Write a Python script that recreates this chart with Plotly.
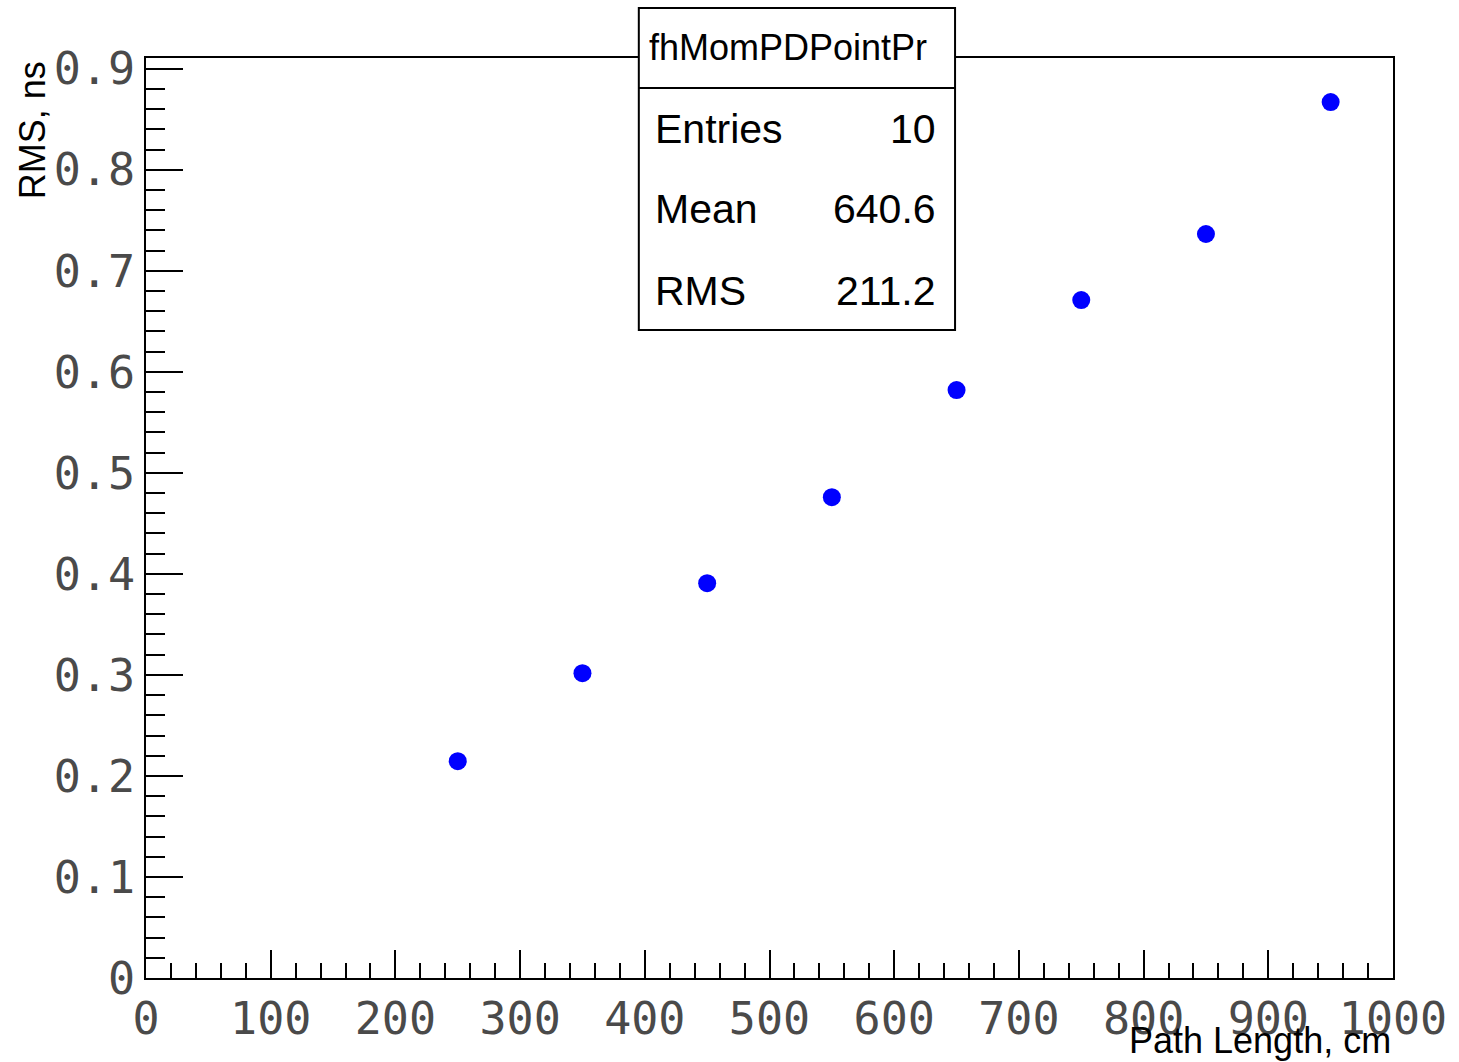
import plotly.graph_objects as go

# ---- data ----
path_length = [250, 350, 450, 550, 650, 750, 850, 950]
rms_ns = [0.2146, 0.3017, 0.3908, 0.4759, 0.5819, 0.6710, 0.7364, 0.8670]

x_tick_vals = [0, 100, 200, 300, 400, 500, 600, 700, 800, 900, 1000]
x_tick_text = ["0", "100", "200", "300", "400", "500", "600", "700", "800", "900", "1000"]
y_tick_vals = [0, 0.1, 0.2, 0.3, 0.4, 0.5, 0.6, 0.7, 0.8, 0.9]
y_tick_text = ["0", "0.1", "0.2", "0.3", "0.4", "0.5", "0.6", "0.7", "0.8", "0.9"]

stats_title = "fhMomPDPointPr"
stats_labels = ["Entries", "Mean", "RMS"]
stats_values = ["10", "640.6", "211.2"]

x_title = "Path Length, cm"
y_title = "RMS, ns"

# ---- figure ----
W, H = 1459, 1062
ML, MR, MT, MB = 146, 63, 58, 84
PW, PH = W - ML - MR, H - MT - MB


def px_x(px):
    return (px - ML) / PW


def px_y(py):
    return (H - MB - py) / PH


fig = go.Figure()
fig.add_trace(go.Scatter(
    x=path_length, y=rms_ns, mode="markers",
    marker=dict(color="#0000ff", size=18, line=dict(width=0)),
    showlegend=False, hoverinfo="x+y",
))

tick_font = dict(family="DejaVu Sans Mono", size=45, color="#4a4a4a")

fig.update_layout(
    width=W, height=H,
    margin=dict(l=ML, r=MR, t=MT, b=MB, pad=0),
    paper_bgcolor="white", plot_bgcolor="white",
    xaxis=dict(
        range=[0, 1000], showgrid=False, zeroline=False,
        showline=True, linecolor="black", linewidth=2, mirror=True,
        ticks="inside", ticklen=28, tickwidth=2, tickcolor="black",
        tickvals=x_tick_vals, ticktext=x_tick_text, tickfont=tick_font,
        minor=dict(ticks="inside", ticklen=15, tickwidth=2, tickcolor="black", dtick=20, showgrid=False),
    ),
    yaxis=dict(
        range=[0, 0.9106], showgrid=False, zeroline=False,
        showline=True, linecolor="black", linewidth=2, mirror=True,
        ticks="inside", ticklen=37, tickwidth=2, tickcolor="black",
        tickvals=y_tick_vals, ticktext=y_tick_text, tickfont=tick_font,
        minor=dict(ticks="inside", ticklen=19, tickwidth=2, tickcolor="black", dtick=0.02, showgrid=False),
    ),
)

# stats box
bx0, bx1 = px_x(640), px_x(957)
by_top, by_bot, by_hdr = px_y(8), px_y(330), px_y(88)
fig.add_shape(type="rect", xref="paper", yref="paper", x0=bx0, x1=bx1, y0=by_bot, y1=by_top,
              line=dict(color="black", width=2), fillcolor="white", layer="above")
fig.add_shape(type="line", xref="paper", yref="paper", x0=bx0, x1=bx1, y0=by_hdr, y1=by_hdr,
              line=dict(color="black", width=2), layer="above")

annots = []
annots.append(dict(text=stats_title, x=px_x(648), y=px_y(48), xref="paper", yref="paper",
                   xanchor="left", yanchor="middle", showarrow=False,
                   font=dict(family="Liberation Sans", size=36, color="black")))
row_y = [129, 209, 291]
for lab, val, ry in zip(stats_labels, stats_values, row_y):
    annots.append(dict(text=lab, x=px_x(654), y=px_y(ry), xref="paper", yref="paper",
                       xanchor="left", yanchor="middle", showarrow=False,
                       font=dict(family="Liberation Sans", size=41, color="black")))
    annots.append(dict(text=val, x=px_x(940), y=px_y(ry), xref="paper", yref="paper",
                       xanchor="right", yanchor="middle", showarrow=False,
                       font=dict(family="Liberation Sans", size=41, color="black")))

annots.append(dict(text=x_title, x=px_x(1396), y=px_y(1040), xref="paper", yref="paper",
                   xanchor="right", yanchor="middle", showarrow=False,
                   font=dict(family="Liberation Sans", size=36, color="black")))
annots.append(dict(text=y_title, x=px_x(32), y=px_y(130), xref="paper", yref="paper",
                   xanchor="center", yanchor="middle", showarrow=False, textangle=-90,
                   font=dict(family="Liberation Sans", size=36, color="black")))
fig.update_layout(annotations=annots)

fig.write_html("out.html")
